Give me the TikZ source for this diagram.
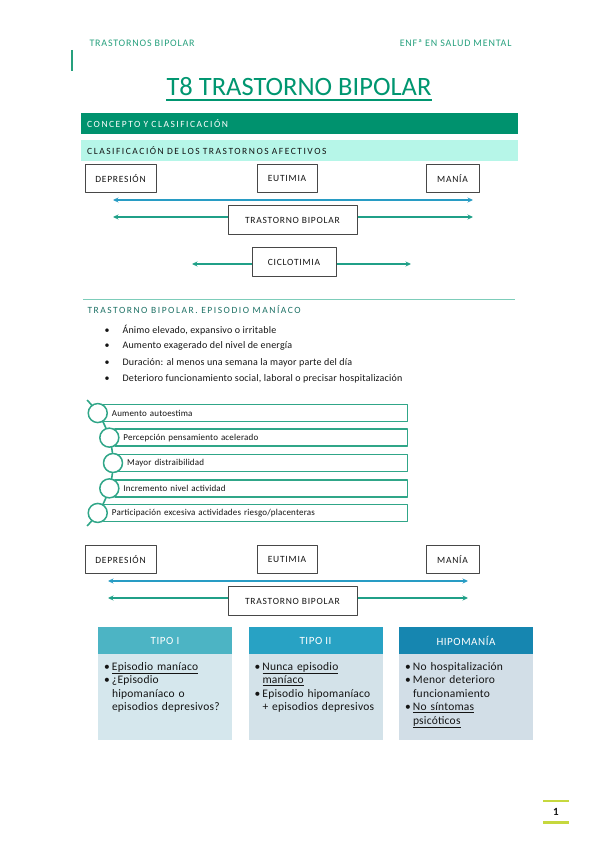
\documentclass[tikz,border=0pt]{standalone}
\usepackage{fontspec}
\setmainfont{Carlito}
\newfontfamily\anchos[LetterSpace=16]{Carlito}
\newfontfamily\medios[LetterSpace=8]{Carlito}
\newfontfamily\finos[LetterSpace=2]{Carlito}
\usetikzlibrary{arrows.meta}
\definecolor{verdecab}{RGB}{38,160,125}
\definecolor{verdetit}{RGB}{0,150,112}
\definecolor{verdebar}{RGB}{0,146,110}
\definecolor{menta}{RGB}{182,246,232}
\definecolor{azulflecha}{RGB}{40,156,196}
\definecolor{verdeflecha}{RGB}{32,160,136}
\definecolor{verderaya}{RGB}{125,205,186}
\definecolor{verdesub}{RGB}{28,112,100}
\definecolor{verdelista}{RGB}{48,166,136}
\definecolor{tipouno}{RGB}{76,180,196}
\definecolor{tipodos}{RGB}{40,162,196}
\definecolor{tipotres}{RGB}{22,134,176}
\definecolor{fondouno}{RGB}{213,231,237}
\definecolor{fondodos}{RGB}{211,226,233}
\definecolor{fondotres}{RGB}{210,222,231}
\definecolor{lima}{RGB}{198,216,62}
\definecolor{texto}{RGB}{20,20,20}
\newcommand{\vineta}{\makebox[8pt][l]{\textbullet}}
\newcommand{\sangria}{\hspace*{8pt}}
\tikzset{
  estado/.style={draw=black!72, line width=1pt, fill=white, inner sep=0pt,
    minimum height=28.5pt, font=\fontsize{9.5}{11}\medios, text=texto},
  barra/.style={anchor=west, inner xsep=6pt, minimum height=21pt, text width=425pt,
    align=left, font=\fontsize{9.5}{11}\anchos},
  flecha/.style={line width=1.3pt},
  paso/.style={draw=verdelista, line width=1.3pt, fill=white, anchor=west, inner xsep=8.5pt,
    minimum height=17pt, align=left, font=\fontsize{9}{10}\finos, text=texto},
  bola/.style={circle, draw=verdelista, line width=1.5pt, fill=white, minimum size=19pt, inner sep=0pt},
  cabeza/.style={minimum width=134pt, minimum height=27pt, inner sep=0pt, text=white,
    font=\fontsize{11}{13}\addfontfeature{LetterSpace=5}},
  cuerpo/.style={anchor=north, inner xsep=6pt, inner ysep=5pt, text width=122pt, align=left,
    text height=11pt, text depth=65pt, font=\fontsize{11.5}{13.5}\finos, text=texto}
}
\begin{document}
\begin{tikzpicture}[x=1pt, y=-1pt, line join=round, >={Stealth[length=5.5pt,width=5pt]}]
\useasboundingbox (0,0) rectangle (599,848);
% cabecera
\node[anchor=west, text=verdecab, font=\fontsize{10}{12}\addfontfeature{LetterSpace=8}] (hizq) at (86,43.5) {TRASTORNOS BIPOLAR};
\node[anchor=east, text=verdecab, font=\fontsize{10}{12}\addfontfeature{LetterSpace=8}] (hder) at (515,43.5) {ENFª EN SALUD MENTAL};
\draw[verdecab, line width=1.5pt] (72,50)--(72,71);
\node[text=verdetit, inner xsep=0pt, font=\fontsize{26.5}{30}\selectfont] (tit) at (299,87) {T8 TRASTORNO BIPOLAR};
\draw[verdetit, line width=1.3pt] ([yshift=-4pt]tit.base west)--([yshift=-4pt]tit.base east);
% concepto y clasificacion
\node[barra, fill=verdebar, text=white] (con) at (81,123.5) {CONCEPTO Y CLASIFICACIÓN};
\node[barra, fill=menta, text=texto] (cla) at (81,150.5) {CLASIFICACIÓN DE LOS TRASTORNOS AFECTIVOS};
\foreach \dy/\dx [count=\n] in {0/0, 381/-5}{
  \node[estado, minimum width=71pt] (dep\n) at (120.5,178.5+\dy) {DEPRESIÓN};
  \node[estado, minimum width=60pt] (eut\n) at (287,178.5+\dy) {EUTIMIA};
  \node[estado, minimum width=53pt] (man\n) at (452.5,178.5+\dy) {MANÍA};
  \coordinate (ai\n) at (113+\dx,200+\dy);
  \coordinate (ad\n) at (473+\dx,200+\dy);
  \draw[<->, flecha, azulflecha] (ai\n)--(ad\n);
  \node[estado, minimum width=129pt] (tb\n) at (292.5,220+\dy) {TRASTORNO BIPOLAR};
  \coordinate (vi\n) at (113+\dx,217+\dy);
  \coordinate (vd\n) at (473+\dx,217+\dy);
  \draw[->, flecha, verdeflecha] (vi\n -| tb\n.west)--(vi\n);
  \draw[->, flecha, verdeflecha] (vd\n -| tb\n.east)--(vd\n);
}
\node[estado, minimum width=84pt] (cic) at (294,262) {CICLOTIMIA};
\coordinate (ci) at (192,264);
\coordinate (cd) at (411,264);
\draw[->, flecha, verdeflecha] (ci -| cic.west)--(ci);
\draw[->, flecha, verdeflecha] (cd -| cic.east)--(cd);
% episodio maniaco
\draw[verderaya, line width=1.5pt] (83,299.5)--(515,299.5);
\node[anchor=west, text=verdesub, font=\fontsize{9.5}{11}\anchos] (epi) at (84,309.5) {TRASTORNO BIPOLAR. EPISODIO MANÍACO};
\foreach \t [count=\i] in {{Ánimo elevado, expansivo o irritable}, Aumento exagerado del nivel de energía,
  Duración: al menos una semana la mayor parte del día,
  {Deterioro funcionamiento social, laboral o precisar hospitalización}}
  \node[anchor=west, text=texto, font=\fontsize{10}{12}\finos] (e\i) at (101,330+16.3*\i-16.3) {\makebox[18pt][l]{\textbullet}\t};
\draw[verdelista, line width=1.6pt] plot[domain=-44.8:44.8, samples=60] ({23.7+89.3*cos(\x)}, {463+89.3*sin(\x)});
\foreach \a/\t [count=\i] in {-34/Aumento autoestima, -16.5/Percepción pensamiento acelerado,
  0/Mayor distraibilidad, 16.5/Incremento nivel actividad,
  34/{Participación excesiva actividades riesgo/placenteras}}{
  \pgfmathsetmacro\cx{23.7+89.3*cos(\a)}
  \pgfmathsetmacro\cy{463+89.3*sin(\a)}
  \pgfmathsetmacro\ancho{407-\cx-5-17}
  \node[paso, text width=\ancho pt] (p\i) at (\cx+5,\cy) {\t};
  \node[bola] (b\i) at (\cx,\cy) {};
}
% tipos
\foreach \x/\col/\tit [count=\i] in {165/tipouno/TIPO I, 315.5/tipodos/TIPO II, 466/tipotres/HIPOMANÍA}
  \node[cabeza, fill=\col] (h\i) at (\x,640.5) {\tit};
\node[cuerpo, fill=fondouno] (c1) at (h1.south) {\vineta\underline{Episodio maníaco}\\
  \vineta¿Episodio\\ \sangria hipomaníaco o\\ \sangria episodios depresivos?};
\node[cuerpo, fill=fondodos] (c2) at (h2.south) {\vineta\underline{Nunca episodio}\\
  \sangria\underline{maníaco}\\ \vineta Episodio hipomaníaco\\ \sangria + episodios depresivos};
\node[cuerpo, fill=fondotres] (c3) at (h3.south) {\vineta No hospitalización\\
  \vineta Menor deterioro\\ \sangria funcionamiento\\ \vineta\underline{No síntomas}\\ \sangria\underline{psicóticos}};
% pagina
\draw[lima, line width=2.2pt] (543,801)--(569,801) (543,822.5)--(569,822.5);
\node[font=\fontsize{11}{13}\selectfont\bfseries, text=texto] (pag) at (556,812) {1};
\end{tikzpicture}
\end{document}
